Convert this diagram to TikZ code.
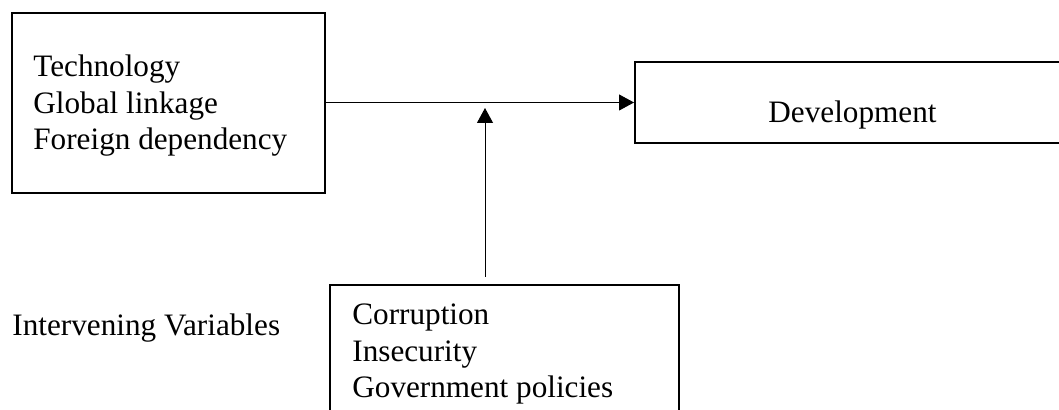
\documentclass[tikz,border=0pt]{standalone}
\usepackage{fontspec}
\setmainfont{Liberation Serif}
\usetikzlibrary{arrows.meta}
\begin{document}
\begin{tikzpicture}[x=0.5pt,y=-0.5pt,
  boxnode/.style={draw, line width=1pt, inner sep=0pt, fill=none},
  txt/.style={inner sep=0pt, align=left, font=\fontsize{15.6pt}{18.25pt}\selectfont},
  arr/.style={line width=0.5pt, -{Triangle[length=7.5pt,width=8pt]}}]
\path[use as bounding box] (0,0) rectangle (1059,410);
\clip (0,0) rectangle (1059,410);
% boxes
\node[boxnode, minimum width=156.5pt, minimum height=90pt] (L) at (168.5,103) {};
\node[boxnode, minimum width=217.5pt, minimum height=40.5pt] (D) at (852.5,102.5) {};
\node[boxnode, minimum width=174.5pt, minimum height=90pt] (B) at (504.5,375) {};
% texts (base anchor = baseline of last line)
\node[txt, anchor=base west] (Lt) at (33,150) {Technology\\Global linkage\\Foreign dependency};
\node[txt, anchor=base] (Dt) at (852.5,123) {Development};
\node[txt, anchor=base west] (Bt) at (352,398) {Corruption\\Insecurity\\Government policies};
\node[txt, anchor=base west] (Iv) at (12,336) {Intervening Variables};
% connectors
\coordinate (vb) at (485,277);
\coordinate (vt) at (485,108);
\draw[arr] (L.east |- D.west) -- (D.west);
\draw[arr] (vb) -- (vt);
\end{tikzpicture}
\end{document}
